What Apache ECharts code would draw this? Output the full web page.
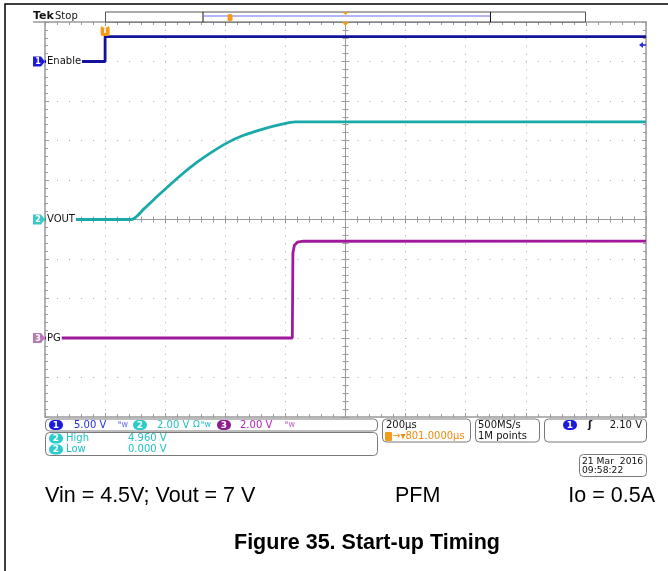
<!DOCTYPE html>
<html>
<head>
<meta charset="utf-8">
<script src="https://cdn.jsdelivr.net/npm/echarts@6/dist/echarts.min.js"></script>
<style>
html, body { margin: 0; padding: 0; background: #fff; }
#main { width: 668px; height: 571px; }
</style>
</head>
<body>
<div id="main"></div>
<script>
// time in µs (trigger at 0), levels in volts
var enableT = [-200, 0, 0, 1800];
var enableV = [0, 0, 3.15, 3.15];
var voutT = [-200, 88, 130, 183, 249, 306, 359, 406, 459, 525, 582, 632, 1800];
var voutV = [0, 0, 0.55, 1.3, 2.2, 2.9, 3.45, 3.88, 4.25, 4.58, 4.8, 4.94, 4.94];
var pgT = [-200, 623, 625, 630, 640, 660, 1800];
var pgV = [0, 0, 4.3, 4.7, 4.85, 4.9, 4.91];

// scope setup
var chNames = ['Enable', 'VOUT', 'PG'];
var chScale = [5, 2, 2];        // V/div
var chOffset = [4, 0, -3];      // ground marker, div from centre
var chColors = ['#12129a', '#1aa8a8', '#a0189c'];
var chBadge = ['#1c1ce0', '#3cc8c8', '#b77ab7'];
var chSmooth = [0, 0.25, 0];
var timeRange = [-200, 1800];   // 200 µs/div, 10 div
var timeStep = 200;
var trigLevel = 2.10;

var GRID = '#9a9a9a';
var TEKFONT = '10px "DejaVu Sans"';
var DOCFONT = '21.5px "Liberation Sans"';

function pairs(t, v) {
    var out = [];
    for (var i = 0; i < t.length; i++) out.push([t[i], v[i]]);
    return out;
}

// x axes: bottom frame, top frame, centre line (two for ticks on both sides)
function xFrame(pos, offset, inside, split) {
    return {
        type: 'value', min: timeRange[0], max: timeRange[1], interval: timeStep,
        position: pos, offset: offset,
        axisLine: { show: true, onZero: false, lineStyle: { color: GRID, width: offset ? 1 : 1.5 } },
        axisTick: { show: true, inside: inside, length: 4, lineStyle: { color: GRID } },
        minorTick: { show: true, splitNumber: 5, length: 3, lineStyle: { color: GRID } },
        axisLabel: { show: false },
        splitLine: { show: split, lineStyle: { color: '#a8a8a8', width: 1, type: [1, 6.9] } }
    };
}
function yFrame(pos, offset, inside, split) {
    return {
        type: 'value', min: -10, max: 10, interval: 2,
        position: pos, offset: offset,
        axisLine: { show: true, onZero: false, lineStyle: { color: GRID, width: offset ? 1 : 1.5 } },
        axisTick: { show: true, inside: inside, length: 4, lineStyle: { color: GRID } },
        minorTick: { show: true, splitNumber: 5, length: 3, lineStyle: { color: GRID } },
        axisLabel: { show: false },
        splitLine: { show: split, lineStyle: { color: '#a8a8a8', width: 1, type: [1, 11.02] } }
    };
}
// one hidden axis per channel, ranged from its V/div and offset
function chAxis(i) {
    return {
        type: 'value', show: false,
        min: (-5 - chOffset[i]) * chScale[i],
        max: (5 - chOffset[i]) * chScale[i]
    };
}

var chart = echarts.init(document.getElementById('main'));
chart.setOption({
    animation: false,
    grid: { left: 45, top: 22, width: 601, height: 395 },
    xAxis: [
        xFrame('bottom', 0, true, true),
        xFrame('top', 0, true, false),
        xFrame('bottom', -197.5, true, false),
        xFrame('bottom', -197.5, false, false)
    ],
    yAxis: [
        chAxis(0), chAxis(1), chAxis(2),
        yFrame('left', 0, true, true),
        yFrame('right', 0, true, false),
        yFrame('left', -300.5, true, false),
        yFrame('left', -300.5, false, false)
    ],
    series: [
        { name: chNames[0], type: 'line', yAxisIndex: 0, data: pairs(enableT, enableV) },
        { name: chNames[1], type: 'line', yAxisIndex: 1, data: pairs(voutT, voutV) },
        { name: chNames[2], type: 'line', yAxisIndex: 2, data: pairs(pgT, pgV) }
    ].map(function (s, i) {
        s.showSymbol = false;
        s.symbol = 'none';
        s.z = 5;
        s.smooth = chSmooth[i];
        s.lineStyle = { color: chColors[i], width: 2.8 };
        return s;
    })
});

// screen furniture drawn around the plot
var g = [];
function txt(x, y, s, color, opt) {
    var st = { text: s, x: x, y: y, fill: color || '#222', font: TEKFONT, verticalAlign: 'middle', align: 'left' };
    for (var k in opt) st[k] = opt[k];
    g.push({ type: 'text', z: 120, style: st });
}
function box(x, y, w, h) {
    g.push({ type: 'rect', z: 110, shape: { x: x, y: y, width: w, height: h, r: 4 },
        style: { fill: '#fff', stroke: '#7a7a7a', lineWidth: 1 } });
}
function badge(cx, cy, n, color) {
    g.push({ type: 'rect', z: 115, shape: { x: cx - 7, y: cy - 5, width: 14, height: 10, r: 5 }, style: { fill: color } });
    txt(cx, cy + 0.5, n, '#fff', { align: 'center', font: 'bold 9px "DejaVu Sans"' });
}

// figure border
g.push({ type: 'rect', z: 100, shape: { x: 5, y: 4, width: 700, height: 600 },
    style: { fill: 'none', stroke: '#000', lineWidth: 1.5 } });

// channel ground markers and labels
for (var i = 0; i < 3; i++) {
    var gy = chart.convertToPixel({ xAxisIndex: 0, yAxisIndex: i }, [0, 0])[1];
    g.push({ type: 'polygon', z: 115, shape: { points: [[33, gy - 5], [41, gy - 5], [45, gy], [41, gy + 5], [33, gy + 5]] },
        style: { fill: chBadge[i] } });
    txt(38, gy + 0.5, String(i + 1), '#fff', { align: 'center', font: 'bold 8px "DejaVu Sans"' });
    txt(46, gy, chNames[i], '#111', { backgroundColor: '#fff', padding: [1, 1, 1, 1] });
}

// trigger marker, horizontal position marker, trigger level arrow
var tx = chart.convertToPixel({ xAxisIndex: 0, yAxisIndex: 0 }, [0, 0])[0];
g.push({ type: 'rect', z: 115, shape: { x: tx - 4.5, y: 26, width: 9, height: 10, r: 2 }, style: { fill: '#f29a1a' } });
txt(tx, 31, 'T', '#fff', { align: 'center', font: 'bold 8px "DejaVu Sans"' });
var cx = chart.convertToPixel({ xAxisIndex: 0, yAxisIndex: 0 }, [800, 0])[0];
g.push({ type: 'polygon', z: 115, shape: { points: [[cx - 3.5, 22], [cx + 3.5, 22], [cx, 26]] }, style: { fill: '#f29a1a' } });
var ly = chart.convertToPixel({ xAxisIndex: 0, yAxisIndex: 0 }, [0, trigLevel])[1];
g.push({ type: 'polygon', z: 115, shape: { points: [[639, ly], [643, ly - 3], [643, ly + 3]] }, style: { fill: '#2a2ae8' } });
g.push({ type: 'line', z: 115, shape: { x1: 642, y1: ly, x2: 646, y2: ly }, style: { stroke: '#2a2ae8', lineWidth: 1.5 } });

// top status bar
txt(33, 16, 'Tek', '#111', { font: 'bold 11px "DejaVu Sans"' });
txt(55, 16, 'Stop', '#111');
g.push({ type: 'line', z: 105, shape: { x1: 33, y1: 22, x2: 46, y2: 22 }, style: { stroke: GRID, lineWidth: 1.5 } });
g.push({ type: 'rect', z: 110, shape: { x: 105.5, y: 12, width: 480, height: 10 }, style: { fill: '#fff', stroke: '#555', lineWidth: 1 } });
g.push({ type: 'line', z: 112, shape: { x1: 203, y1: 12, x2: 203, y2: 22 }, style: { stroke: '#111', lineWidth: 1 } });
g.push({ type: 'line', z: 112, shape: { x1: 490.5, y1: 12, x2: 490.5, y2: 22 }, style: { stroke: '#111', lineWidth: 1 } });
g.push({ type: 'line', z: 112, shape: { x1: 203, y1: 16, x2: 490.5, y2: 16 }, style: { stroke: '#6a6af0', lineWidth: 1 } });
g.push({ type: 'rect', z: 113, shape: { x: 227.5, y: 14, width: 5, height: 7, r: 1.5 }, style: { fill: '#f29a1a' } });
g.push({ type: 'polygon', z: 113, shape: { points: [[cx - 3, 12], [cx + 3, 12], [cx, 15]] }, style: { fill: '#f29a1a' } });

// bottom readouts
box(45.5, 419, 332, 12);
badge(56, 425, '1', '#1c1ce0');
txt(74, 425, '5.00 V', '#2a2ae0');
txt(118, 425, 'ᴮw', '#6a6af0', { font: '8px "DejaVu Sans"' });
badge(140, 425, '2', '#2ccccc');
txt(157, 425, '2.00 V', '#22c0c0');
txt(193, 425, 'Ω', '#22c0c0', { font: '9px "DejaVu Sans"' });
txt(201, 425, 'ᴮw', '#22c0c0', { font: '8px "DejaVu Sans"' });
badge(224, 425, '3', '#8e1c8e');
txt(240, 425, '2.00 V', '#b020b0');
txt(285, 425, 'ᴮw', '#c060c0', { font: '8px "DejaVu Sans"' });

box(45.5, 432.5, 332, 23);
badge(56, 438.5, '2', '#2ccccc');
txt(66, 438.5, 'High', '#22c0c0');
txt(128, 438.5, '4.960 V', '#22c0c0');
badge(56, 449.5, '2', '#2ccccc');
txt(66, 449.5, 'Low', '#22c0c0');
txt(128, 449.5, '0.000 V', '#22c0c0');

box(382.5, 419, 88, 23);
txt(386, 425, '200µs', '#111');
g.push({ type: 'rect', z: 115, shape: { x: 385, y: 432, width: 7, height: 9, r: 1 }, style: { fill: '#f29a1a' } });
txt(392, 436.5, '→▾801.0000µs', '#f08a10');

box(475.5, 419, 64, 23);
txt(478, 425, '500MS/s', '#111');
txt(478, 436.5, '1M points', '#111');

box(544.5, 419, 102, 23);
badge(570, 425, '1', '#1c1ce0');
txt(588, 425, 'ʃ', '#111', { font: 'bold 10px "DejaVu Sans"' });
txt(642, 425, '2.10 V', '#111', { align: 'right' });

box(579.5, 454.5, 67, 22);
txt(582, 461.5, '21 Mar  2016', '#111', { font: '9.2px "DejaVu Sans"' });
txt(582, 471, '09:58:22', '#111', { font: '9.2px "DejaVu Sans"' });

// document captions
txt(45, 496, 'Vin = 4.5V; Vout = 7 V', '#000', { font: DOCFONT });
txt(395, 496, 'PFM', '#000', { font: DOCFONT });
txt(655, 496, 'Io = 0.5A', '#000', { font: DOCFONT, align: 'right' });
txt(367, 543, 'Figure 35. Start-up Timing', '#000', { font: 'bold ' + DOCFONT, align: 'center' });

chart.setOption({ graphic: g });
</script>
</body>
</html>
